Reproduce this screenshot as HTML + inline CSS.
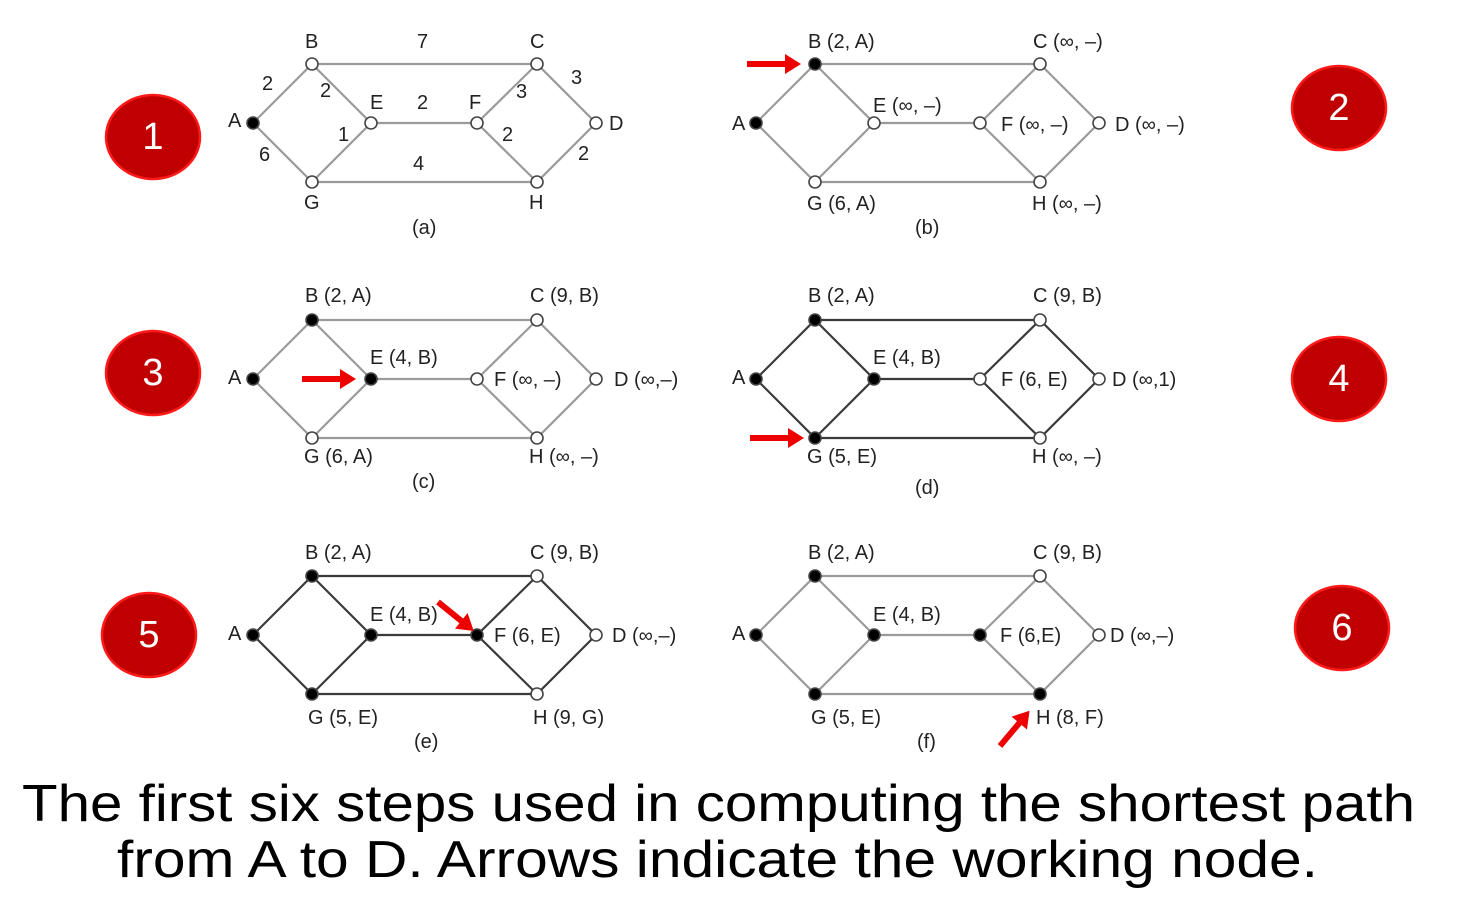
<!DOCTYPE html>
<html><head><meta charset="utf-8"><style>
html,body{margin:0;padding:0;background:#fff;width:1468px;height:900px;overflow:hidden}
text{font-family:"Liberation Sans",Arial,sans-serif}
</style></head><body>
<svg width="1468" height="900" viewBox="0 0 1468 900" xmlns="http://www.w3.org/2000/svg">
<defs>
<g id="ed" fill="none">
<path d="M253 123L312 64L537 64L596 123L537 182L312 182L253 123M312 64L371 123L477 123L537 64M371 123L312 182M477 123L537 182"/>
</g>
</defs>
<g stroke="#9a9a9a" stroke-width="2.2">
<use href="#ed"/>
<use href="#ed" transform="translate(503,0)"/>
<use href="#ed" transform="translate(0,256)"/>
<use href="#ed" transform="translate(503,512)"/>
</g>
<g stroke="#3a3a3a" stroke-width="2.2">
<use href="#ed" transform="translate(503,256)"/>
<use href="#ed" transform="translate(0,512)"/>
</g>
<g stroke="#444" stroke-width="1.6">
<circle cx="253" cy="123" r="6" fill="#000"/><circle cx="312" cy="64" r="6" fill="#fff"/><circle cx="537" cy="64" r="6" fill="#fff"/><circle cx="596" cy="123" r="6" fill="#fff"/><circle cx="371" cy="123" r="6" fill="#fff"/><circle cx="477" cy="123" r="6" fill="#fff"/><circle cx="312" cy="182" r="6" fill="#fff"/><circle cx="537" cy="182" r="6" fill="#fff"/>
<g transform="translate(503,0)"><circle cx="253" cy="123" r="6" fill="#000"/><circle cx="312" cy="64" r="6" fill="#000"/><circle cx="537" cy="64" r="6" fill="#fff"/><circle cx="596" cy="123" r="6" fill="#fff"/><circle cx="371" cy="123" r="6" fill="#fff"/><circle cx="477" cy="123" r="6" fill="#fff"/><circle cx="312" cy="182" r="6" fill="#fff"/><circle cx="537" cy="182" r="6" fill="#fff"/></g>
<g transform="translate(0,256)"><circle cx="253" cy="123" r="6" fill="#000"/><circle cx="312" cy="64" r="6" fill="#000"/><circle cx="537" cy="64" r="6" fill="#fff"/><circle cx="596" cy="123" r="6" fill="#fff"/><circle cx="371" cy="123" r="6" fill="#000"/><circle cx="477" cy="123" r="6" fill="#fff"/><circle cx="312" cy="182" r="6" fill="#fff"/><circle cx="537" cy="182" r="6" fill="#fff"/></g>
<g transform="translate(503,256)"><circle cx="253" cy="123" r="6" fill="#000"/><circle cx="312" cy="64" r="6" fill="#000"/><circle cx="537" cy="64" r="6" fill="#fff"/><circle cx="596" cy="123" r="6" fill="#fff"/><circle cx="371" cy="123" r="6" fill="#000"/><circle cx="477" cy="123" r="6" fill="#fff"/><circle cx="312" cy="182" r="6" fill="#000"/><circle cx="537" cy="182" r="6" fill="#fff"/></g>
<g transform="translate(0,512)"><circle cx="253" cy="123" r="6" fill="#000"/><circle cx="312" cy="64" r="6" fill="#000"/><circle cx="537" cy="64" r="6" fill="#fff"/><circle cx="596" cy="123" r="6" fill="#fff"/><circle cx="371" cy="123" r="6" fill="#000"/><circle cx="477" cy="123" r="6" fill="#000"/><circle cx="312" cy="182" r="6" fill="#000"/><circle cx="537" cy="182" r="6" fill="#fff"/></g>
<g transform="translate(503,512)"><circle cx="253" cy="123" r="6" fill="#000"/><circle cx="312" cy="64" r="6" fill="#000"/><circle cx="537" cy="64" r="6" fill="#fff"/><circle cx="596" cy="123" r="6" fill="#fff"/><circle cx="371" cy="123" r="6" fill="#000"/><circle cx="477" cy="123" r="6" fill="#000"/><circle cx="312" cy="182" r="6" fill="#000"/><circle cx="537" cy="182" r="6" fill="#000"/></g>
</g>
<g font-size="20" fill="#222" dominant-baseline="central">
<text x="305" y="42">B</text><text x="530" y="42">C</text><text x="417" y="42">7</text><text x="228" y="121">A</text><text x="262" y="84">2</text><text x="320" y="91">2</text><text x="370" y="103">E</text><text x="417" y="103">2</text><text x="469" y="103">F</text><text x="516" y="92">3</text><text x="571" y="78">3</text><text x="609" y="124">D</text><text x="338" y="135">1</text><text x="502" y="135">2</text><text x="259" y="155">6</text><text x="413" y="164">4</text><text x="578" y="154">2</text><text x="304" y="203">G</text><text x="529" y="203">H</text><text x="412" y="228">(a)</text>
<text x="808" y="42">B (2, A)</text><text x="1033" y="42">C (∞, –)</text><text x="732" y="124">A</text><text x="873" y="106">E (∞, –)</text><text x="1001" y="125">F (∞, –)</text><text x="1115" y="125">D (∞, –)</text><text x="807" y="204">G (6, A)</text><text x="1032" y="204">H (∞, –)</text><text x="915" y="228">(b)</text>
<text x="305" y="296">B (2, A)</text><text x="530" y="296">C (9, B)</text><text x="228" y="378">A</text><text x="370" y="358">E (4, B)</text><text x="494" y="380">F (∞, –)</text><text x="614" y="380">D (∞,–)</text><text x="304" y="457">G (6, A)</text><text x="529" y="457">H (∞, –)</text><text x="412" y="482">(c)</text>
<text x="808" y="296">B (2, A)</text><text x="1033" y="296">C (9, B)</text><text x="732" y="378">A</text><text x="873" y="358">E (4, B)</text><text x="1001" y="380">F (6, E)</text><text x="1112" y="380">D (∞,1)</text><text x="807" y="457">G (5, E)</text><text x="1032" y="457">H (∞, –)</text><text x="915" y="488">(d)</text>
<text x="305" y="553">B (2, A)</text><text x="530" y="553">C (9, B)</text><text x="228" y="634">A</text><text x="370" y="615">E (4, B)</text><text x="494" y="636">F (6, E)</text><text x="612" y="636">D (∞,–)</text><text x="308" y="718">G (5, E)</text><text x="533" y="718">H (9, G)</text><text x="414" y="742">(e)</text>
<text x="808" y="553">B (2, A)</text><text x="1033" y="553">C (9, B)</text><text x="732" y="634">A</text><text x="873" y="615">E (4, B)</text><text x="1000" y="636">F (6,E)</text><text x="1110" y="636">D (∞,–)</text><text x="811" y="718">G (5, E)</text><text x="1036" y="718">H (8, F)</text><text x="917" y="742">(f)</text>
</g>
<g fill="#ee0000">
<path d="M747 61h38v-7l16 10l-16 10v-7h-38z"/>
<path d="M302 376h38v-7l16 10l-16 10v-7h-38z"/>
<path d="M750 435h38v-7l16 10l-16 10v-7h-38z"/>
<path d="M0 -3h30v-7l16 10l-16 10v-7h-30z" transform="translate(438,602) rotate(39)"/>
<path d="M0 -3h30v-7l16 10l-16 10v-7h-30z" transform="translate(1000,746) rotate(-50)"/>
</g>
<g fill="#c00000" stroke="#ff1a1a" stroke-width="2.5">
<ellipse cx="153" cy="137" rx="47" ry="42"/>
<ellipse cx="1339" cy="108" rx="47" ry="42"/>
<ellipse cx="153" cy="373" rx="47" ry="42"/>
<ellipse cx="1339" cy="379" rx="47" ry="42"/>
<ellipse cx="149" cy="635" rx="47" ry="42"/>
<ellipse cx="1342" cy="628" rx="47" ry="42"/>
</g>
<g fill="#fff" font-size="38" text-anchor="middle" dominant-baseline="central">
<text x="153" y="137">1</text><text x="1339" y="108">2</text><text x="153" y="373">3</text><text x="1339" y="379">4</text><text x="149" y="635">5</text><text x="1342" y="628">6</text>
</g>
<g fill="#000" font-size="52">
<text x="22" y="821" textLength="1393" lengthAdjust="spacingAndGlyphs">The first six steps used in computing the shortest path</text>
<text x="117" y="877" textLength="1201" lengthAdjust="spacingAndGlyphs">from A to D. Arrows indicate the working node.</text>
</g>
</svg>
</body></html>
